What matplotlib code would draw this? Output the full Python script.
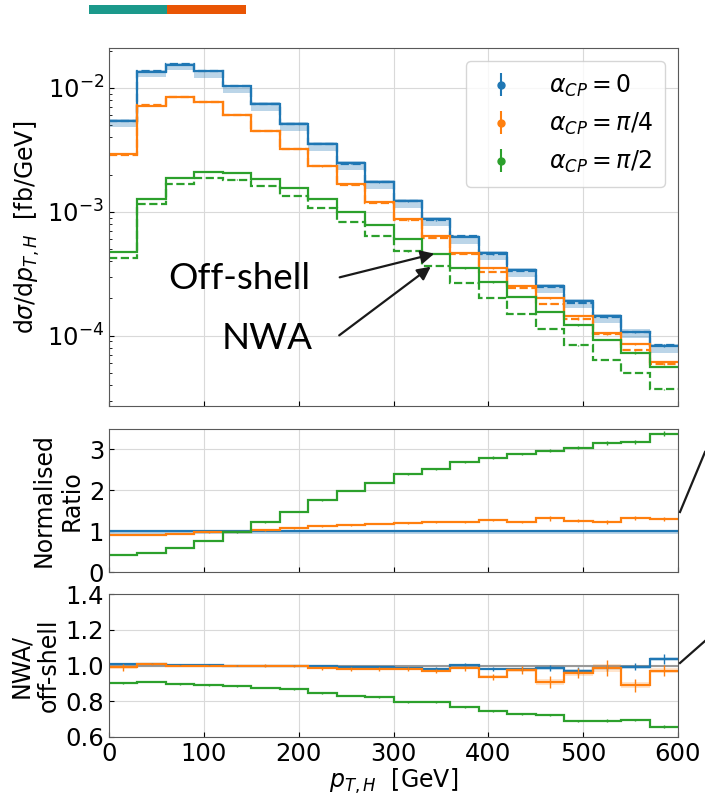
"""Higgs pT distribution for three CP-mixing angles: off-shell vs NWA, with ratio panels."""
import matplotlib

matplotlib.use("Agg")
import matplotlib.pyplot as plt
import numpy as np

# bins of p_T,H [GeV]
edges = np.arange(0, 601, 30)

# off-shell dsigma/dpT [fb/GeV]
blue_off = [5.4e-3, 1.35e-2, 1.54e-2, 1.36e-2, 1.03e-2, 7.4e-3, 5.1e-3, 3.53e-3, 2.47e-3, 1.74e-3,
            1.23e-3, 8.7e-4, 6.3e-4, 4.64e-4, 3.4e-4, 2.53e-4, 1.91e-4, 1.43e-4, 1.08e-4, 8.2e-5]
orange_off = [2.92e-3, 7.2e-3, 8.5e-3, 7.7e-3, 6.1e-3, 4.5e-3, 3.24e-3, 2.36e-3, 1.69e-3, 1.2e-3,
              8.7e-4, 6.4e-4, 4.64e-4, 3.49e-4, 2.51e-4, 2.0e-4, 1.43e-4, 1.05e-4, 8.6e-5, 6.1e-5]
green_off = [4.73e-4, 1.28e-3, 1.87e-3, 2.09e-3, 2.06e-3, 1.85e-3, 1.55e-3, 1.27e-3, 9.9e-4, 7.8e-4,
             6.0e-4, 4.58e-4, 3.49e-4, 2.69e-4, 2.05e-4, 1.56e-4, 1.21e-4, 9.2e-5, 7.2e-5, 5.6e-5]

# scale band of alpha_CP = 0 (fraction of central value)
blue_band_lo = [0.89, 0.9, 0.9, 0.89, 0.88, 0.88, 0.88, 0.88, 0.88, 0.88,
                0.88, 0.88, 0.88, 0.88, 0.88, 0.88, 0.88, 0.88, 0.88, 0.88]
blue_band_hi = [1.03, 1.03, 1.03, 1.03, 1.03, 1.04, 1.04, 1.04, 1.04, 1.04,
                1.04, 1.04, 1.04, 1.04, 1.04, 1.04, 1.04, 1.04, 1.04, 1.04]

# normalised ratio to alpha_CP = 0
blue_norm = [1.0] * 20
blue_norm_lo = [0.93, 0.93, 0.93, 0.93, 0.92, 0.92, 0.92, 0.92, 0.92, 0.92,
                0.92, 0.92, 0.92, 0.92, 0.92, 0.92, 0.92, 0.92, 0.92, 0.92]
blue_norm_hi = [1.03, 1.03, 1.03, 1.03, 1.03, 1.04, 1.04, 1.04, 1.04, 1.04,
                1.04, 1.04, 1.04, 1.04, 1.04, 1.04, 1.04, 1.04, 1.04, 1.04]
orange_norm = [0.91, 0.905, 0.94, 0.97, 0.98, 1.02, 1.07, 1.12, 1.15, 1.18,
               1.20, 1.22, 1.23, 1.27, 1.23, 1.31, 1.25, 1.23, 1.33, 1.30]
green_norm = [0.42, 0.47, 0.59, 0.76, 0.97, 1.22, 1.48, 1.76, 1.99, 2.19,
              2.39, 2.52, 2.70, 2.80, 2.89, 2.97, 3.04, 3.15, 3.19, 3.38]
orange_norm_err = [0.005, 0.005, 0.005, 0.005, 0.006, 0.007, 0.008, 0.01, 0.012, 0.015,
                   0.016, 0.018, 0.02, 0.03, 0.03, 0.06, 0.035, 0.05, 0.05, 0.04]
green_norm_err = [0.003, 0.004, 0.005, 0.006, 0.008, 0.01, 0.012, 0.015, 0.018, 0.02,
                  0.022, 0.025, 0.028, 0.03, 0.032, 0.035, 0.04, 0.045, 0.05, 0.06]

# NWA / off-shell
blue_nwa = [1.01, 1.01, 1.005, 1.005, 1.0, 1.0, 1.0, 1.0, 0.993, 0.993,
            0.986, 0.982, 1.005, 0.98, 0.982, 0.986, 0.97, 0.986, 0.993, 1.036]
orange_nwa = [0.99, 1.008, 1.0, 1.0, 1.0, 1.0, 0.997, 0.985, 0.98, 0.98,
              0.98, 0.969, 0.986, 0.937, 0.975, 0.909, 0.956, 0.986, 0.889, 0.971]
green_nwa = [0.90, 0.909, 0.895, 0.891, 0.885, 0.876, 0.866, 0.844, 0.831, 0.822,
             0.798, 0.794, 0.768, 0.747, 0.730, 0.723, 0.69, 0.691, 0.695, 0.658]
blue_nwa_err = [0.004, 0.003, 0.003, 0.003, 0.003, 0.004, 0.004, 0.005, 0.005, 0.006,
                0.007, 0.008, 0.009, 0.010, 0.012, 0.019, 0.019, 0.015, 0.02, 0.026]
orange_nwa_err = [0.02, 0.006, 0.005, 0.005, 0.005, 0.006, 0.006, 0.008, 0.009, 0.010,
                  0.012, 0.012, 0.014, 0.018, 0.025, 0.033, 0.028, 0.043, 0.035, 0.030]
green_nwa_err = [0.003, 0.003, 0.003, 0.003, 0.003, 0.003, 0.004, 0.004, 0.004, 0.005,
                 0.005, 0.005, 0.006, 0.006, 0.006, 0.007, 0.007, 0.008, 0.008, 0.009]

labels = [r"$\alpha_{CP} = 0$", r"$\alpha_{CP} = \pi/4$", r"$\alpha_{CP} = \pi/2$"]
colors = ["#1f77b4", "#ff7f0e", "#2ca02c"]

plt.rcParams.update({
    "font.family": ["DejaVu Sans"],
    "font.size": 17,
    "xtick.direction": "in",
    "ytick.direction": "in",
    "axes.edgecolor": "0.35",
})

W, H = 705, 798
fig = plt.figure(figsize=(W / 100, H / 100), dpi=100)


def px_axes(left, top, right, bottom):
    return fig.add_axes([left / W, 1 - bottom / H, (right - left) / W, (bottom - top) / H])


ax1 = px_axes(109, 48, 678, 406)
ax2 = px_axes(109, 429, 678, 572)
ax3 = px_axes(109, 594, 678, 737)

centers = 0.5 * (edges[1:] + edges[:-1])
lw = 1.6

# ---- main panel
off_sets = [blue_off, orange_off, green_off]
nwa_sets = [blue_nwa, orange_nwa, green_nwa]
err_sets = [blue_nwa_err, orange_nwa_err, green_nwa_err]
ax1.stairs(np.array(blue_off) * np.array(blue_band_hi), edges,
           baseline=np.array(blue_off) * np.array(blue_band_lo),
           fill=True, color=colors[0], alpha=0.3, lw=0)
for off, rat, err, c, lab in zip(off_sets, nwa_sets, err_sets, colors, labels):
    off = np.array(off)
    nwa = off * np.array(rat)
    ax1.stairs(off, edges, baseline=None, color=c, lw=lw)
    ax1.stairs(nwa, edges, baseline=None, color=c, lw=lw, ls="--")
    ax1.errorbar(centers, off, yerr=off * np.array(err) * 0.5, fmt="none", ecolor=c, elinewidth=1)
    ax1.errorbar(centers, nwa, yerr=nwa * np.array(err) * 0.5, fmt="none", ecolor=c, elinewidth=1)
    ax1.errorbar([np.nan], [np.nan], yerr=[1], fmt="o", color=c, ms=5, label=lab)

ax1.set_yscale("log")
ax1.set_ylim(2.71e-5, 2.1e-2)
ax1.set_ylabel(r"$\mathrm{d}\sigma/\mathrm{d}p_{T,H}$  [fb/GeV]")
ax1.yaxis.set_label_coords(-0.118, 0.5)
ax1.legend(loc="upper right", fontsize=17, borderaxespad=0.55,
           handlelength=2.0, handletextpad=1.0, borderpad=0.5)

# ---- normalised ratio
ax2.stairs(blue_norm_hi, edges, baseline=blue_norm_lo, fill=True, color=colors[0], alpha=0.3, lw=0)
ax2.stairs(blue_norm, edges, baseline=None, color=colors[0], lw=lw)
for vals, err, c in [(orange_norm, orange_norm_err, colors[1]), (green_norm, green_norm_err, colors[2])]:
    ax2.stairs(vals, edges, baseline=None, color=c, lw=lw)
    ax2.errorbar(centers, vals, yerr=err, fmt="none", ecolor=c, elinewidth=1)
ax2.set_ylim(0, 3.5)
ax2.set_yticks([0, 1, 2, 3])
ax2.set_ylabel("Normalised\nRatio")
ax2.yaxis.set_label_coords(-0.045, 0.5)

# ---- NWA / off-shell
ax3.axhline(1.0, color="0.6", lw=1.5, zorder=1)
for vals, err, c in zip(nwa_sets, err_sets, colors):
    vals = np.array(vals)
    err = np.array(err)
    ax3.stairs(vals + 0.5 * err, edges, baseline=vals - 0.5 * err, fill=True, color=c, alpha=0.2, lw=0)
    ax3.stairs(vals, edges, baseline=None, color=c, lw=lw)
    ax3.errorbar(centers, vals, yerr=err, fmt="none", ecolor=c, elinewidth=1)
ax3.set_ylim(0.6, 1.4)
ax3.set_yticks([0.6, 0.8, 1.0, 1.2, 1.4])
ax3.set_ylabel("NWA/\noff-shell")
ax3.yaxis.set_label_coords(-0.085, 0.5)
ax3.set_xlabel(r"$p_{T,H}$  [GeV]", labelpad=1)

for ax in (ax1, ax2, ax3):
    ax.set_xlim(0, 600)
    ax.set_xticks([0, 100, 200, 300, 400, 500, 600])
    ax.grid(True, color="0.85", lw=0.8)
    ax.set_axisbelow(True)
    ax.tick_params(labelsize=17.5)
    ax.tick_params(which="minor", direction="in")
for ax in (ax1, ax2):
    ax.tick_params(labelbottom=False)

# annotation text and arrows
fig.text(310 / W, 1 - 289 / H, "Off-shell", family="Lato", fontsize=26.5, ha="right", va="baseline")
fig.text(313 / W, 1 - 349 / H, "NWA", family="Lato", fontsize=26.5, ha="right", va="baseline")
for start, end in [((337, 278), (437, 253)), ((337, 337), (433, 265))]:
    fig.add_artist(matplotlib.patches.FancyArrowPatch(
        (start[0] / W, 1 - start[1] / H), (end[0] / W, 1 - end[1] / H),
        transform=fig.transFigure, arrowstyle="-|>", mutation_scale=20, color="#1a1a1a", lw=1.6))

# slide decorations around the figure
fig.add_artist(matplotlib.patches.Rectangle((89 / W, 1 - 14 / H), 78 / W, 9 / H,
                                            transform=fig.transFigure, color="#1b998b", lw=0))
fig.add_artist(matplotlib.patches.Rectangle((167 / W, 1 - 14 / H), 79 / W, 9 / H,
                                            transform=fig.transFigure, color="#e95504", lw=0))
for (x0, y0), (x1, y1) in [((680, 512), (705, 452)), ((680, 663), (705, 641))]:
    fig.add_artist(matplotlib.lines.Line2D([x0 / W, x1 / W], [1 - y0 / H, 1 - y1 / H],
                                           transform=fig.transFigure, color="#1a1a1a", lw=1.6))

fig.savefig("out.png", dpi=100)
